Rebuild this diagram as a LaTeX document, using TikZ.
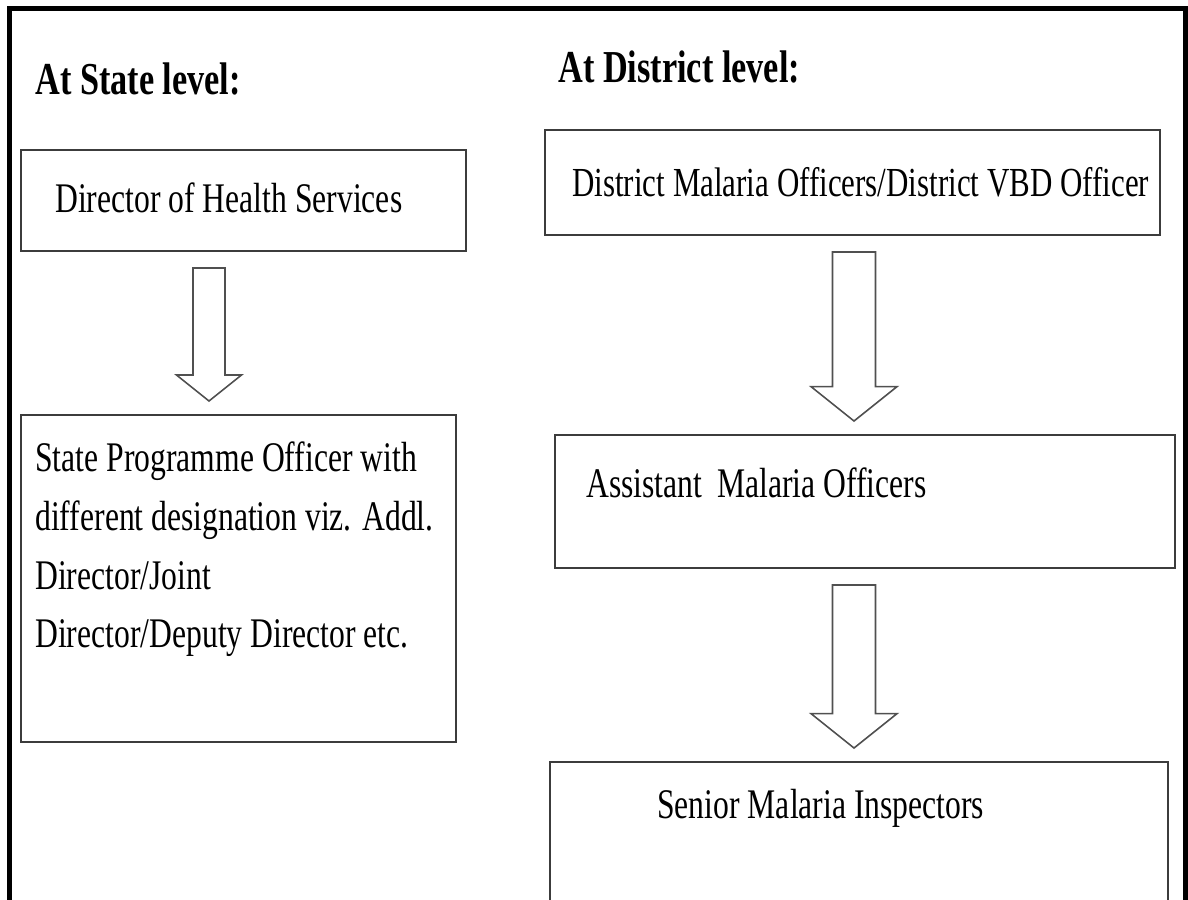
\documentclass[tikz,border=0pt]{standalone}
\usepackage{fontspec}
\setmainfont{Liberation Serif}[FakeStretch=0.75]
\usetikzlibrary{calc}

\definecolor{edgegray}{HTML}{3C3C3C}

%% hollow down arrow between two boxes: x, upper box, lower box, shaft half width, head half width
\newcommand{\hollowarrow}[5]{%
  \draw[arrowline] let \p1=(#2.south), \p2=(#3.north) in
    ({#1cm-#4cm},{\y1-0.32cm}) -- ({#1cm+#4cm},{\y1-0.32cm})
    -- ({#1cm+#4cm},{\y2+0.26cm+0.8*#5cm}) -- ({#1cm+#5cm},{\y2+0.26cm+0.8*#5cm})
    -- ({#1cm},{\y2+0.26cm}) -- ({#1cm-#5cm},{\y2+0.26cm+0.8*#5cm})
    -- ({#1cm-#4cm},{\y2+0.26cm+0.8*#5cm}) -- cycle;}

\begin{document}
\begin{tikzpicture}[
    levelbox/.style={draw=edgegray,line width=1.1pt,inner sep=0pt},
    boxtext/.style={inner sep=0pt,anchor=base west,font=\fontsize{24}{33.5}\selectfont},
    heading/.style={inner sep=0pt,anchor=base west,font=\fontsize{26}{30}\selectfont\bfseries},
    arrowline/.style={draw=edgegray!90,line width=0.9pt,fill=white,line join=miter}]
        \useasboundingbox (0,0) rectangle (23.76,17.98);
        %% frame
        \draw[line width=0.1cm] (0.19,-0.1) -- (0.19,17.81) -- (23.71,17.81) -- (23.71,-0.1);
        %% state level
        \node[heading] (statehead) at (0.7,16.08) {At State level:};
        \node[levelbox,minimum width=8.9cm,minimum height=2.02cm] (dhs) at (4.87,13.97) {};
        \node[boxtext] (dhstext) at (1.1,13.72) {Director of Health Services};
        \node[levelbox,minimum width=8.7cm,minimum height=6.54cm] (spo) at (4.77,6.41) {};
        %% base of a multi-line node is its last line
        \node[boxtext,align=left] (spotext) at (0.7,5.02) {State Programme Officer with\\different designation viz. Addl.\\Director/Joint\\Director/Deputy Director etc.};
        \hollowarrow{4.18}{dhs}{spo}{0.32}{0.65}
        %% district level
        \node[heading] (disthead) at (11.16,16.32) {At District level:};
        \node[levelbox,minimum width=12.3cm,minimum height=2.1cm] (dmo) at (17.05,14.33) {};
        \node[boxtext,font=\fontsize{23.5}{30}\selectfont] (dmotext) at (11.44,14.04) {District Malaria Officers/District VBD Officer};
        \node[levelbox,minimum width=12.4cm,minimum height=2.66cm] (amo) at (17.3,7.95) {};
        \node[boxtext] (amotext) at (11.72,8.02) {Assistant\, Malaria Officers};
        \node[levelbox,minimum width=12.36cm,minimum height=2.8cm] (smi) at (17.18,1.34) {};
        \node[boxtext] (smitext) at (13.14,1.62) {Senior Malaria Inspectors};
        \hollowarrow{17.08}{dmo}{amo}{0.43}{0.86}
        \hollowarrow{17.08}{amo}{smi}{0.43}{0.86}
    \end{tikzpicture}
\end{document}
